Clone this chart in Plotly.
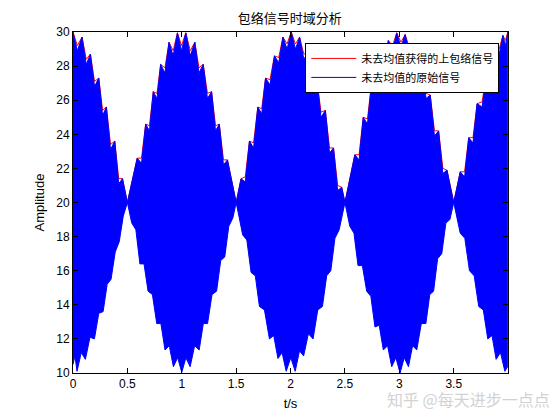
import plotly.graph_objects as go

# upper edge of the raw signal: scallop peaks and the notches between them
peak_t = [0.000, 0.083, 0.160, 0.237, 0.307, 0.384, 0.455, 0.500,
          0.590, 0.668, 0.738, 0.806, 0.883, 0.960, 1.037, 1.120, 1.197, 1.274, 1.345, 1.420, 1.500,
          1.545, 1.622, 1.699, 1.770, 1.852, 1.930, 2.006, 2.083, 2.160, 2.240, 2.320, 2.395, 2.470, 2.500,
          2.591, 2.668, 2.745, 2.822, 2.899, 2.976, 3.053, 3.130, 3.207, 3.284, 3.361, 3.438, 3.500,
          3.560, 3.638, 3.715, 3.807, 3.884, 3.952, 3.998]
peak_v = [30.0, 29.7, 28.7, 27.3, 25.6, 23.6, 21.4, 20.0,
          22.6, 24.6, 26.5, 28.1, 29.4, 29.95, 29.95, 29.4, 28.1, 26.5, 24.6, 22.5, 20.0,
          21.4, 23.6, 25.6, 27.3, 28.6, 29.7, 30.0, 29.7, 28.8, 27.3, 25.4, 23.2, 20.9, 20.0,
          22.8, 25.0, 27.0, 28.5, 29.5, 29.95, 29.85, 29.2, 28.0, 26.3, 24.2, 21.9, 20.0,
          21.8, 23.8, 25.8, 27.8, 28.9, 29.8, 30.0]

notch_t = [0.040, 0.122, 0.198, 0.272, 0.345, 0.420,
           0.630, 0.703, 0.772, 0.845, 0.921, 0.998, 1.078, 1.158, 1.236, 1.310, 1.383,
           1.584, 1.660, 1.735, 1.811, 1.891, 1.968, 2.045, 2.122, 2.200, 2.280, 2.358, 2.433,
           2.630, 2.707, 2.784, 2.861, 2.938, 3.015, 3.092, 3.169, 3.246, 3.323, 3.400,
           3.600, 3.677, 3.761, 3.846, 3.918, 3.975]
notch_v = [28.9, 28.1, 26.8, 25.1, 23.1, 21.1,
           22.3, 24.2, 26.1, 27.6, 28.6, 28.9, 28.6, 27.6, 26.1, 24.2, 22.2,
           21.2, 23.2, 25.2, 26.9, 28.2, 29.0, 29.0, 28.4, 26.9, 25.0, 22.9, 20.7,
           22.5, 24.6, 26.6, 28.0, 28.9, 29.1, 28.8, 27.8, 26.1, 23.9, 21.7,
           21.5, 23.5, 25.6, 27.5, 28.7, 29.2]
# upper envelope (red) in the notches
env_notch_v = [29.2, 28.4, 27.1, 25.4, 23.4, 21.4,
               22.6, 24.5, 26.4, 27.9, 28.9, 29.2, 28.9, 27.9, 26.4, 24.5, 22.5,
               21.5, 23.5, 25.5, 27.2, 28.5, 29.3, 29.3, 28.7, 27.2, 25.3, 23.2, 21.0,
               22.8, 24.9, 26.9, 28.3, 29.2, 29.4, 29.1, 28.1, 26.4, 24.2, 22.0,
               21.8, 23.8, 25.9, 27.8, 29.0, 29.5]

# lower edge of the raw signal: troughs and the bumps between them
trough_t = [0.000, 0.037, 0.114, 0.197, 0.277, 0.350, 0.425, 0.500,
            0.540, 0.615, 0.690, 0.770, 0.846, 0.923, 1.000, 1.077, 1.160, 1.237, 1.320, 1.395, 1.470, 1.500,
            1.560, 1.637, 1.714, 1.806, 1.884, 1.960, 2.043, 2.120, 2.207, 2.293, 2.370, 2.447, 2.500,
            2.545, 2.620, 2.700, 2.776, 2.853, 2.930, 3.007, 3.084, 3.160, 3.244, 3.315, 3.390, 3.465, 3.500,
            3.560, 3.645, 3.730, 3.813, 3.890, 3.970, 3.998]
trough_v = [10.5, 10.1, 10.8, 12.0, 13.6, 15.5, 17.7, 20.0,
            18.8, 16.4, 14.8, 12.9, 11.35, 10.37, 10.04, 10.37, 11.35, 12.9, 14.8, 16.8, 19.1, 20.0,
            18.1, 15.9, 13.9, 12.0, 10.85, 10.1, 10.1, 11.0, 12.0, 13.9, 16.0, 18.4, 20.0,
            18.6, 16.3, 14.8, 12.7, 11.35, 10.37, 10.0, 10.37, 11.35, 12.9, 14.8, 17.0, 19.0, 20.0,
            18.2, 16.0, 13.9, 12.0, 10.8, 10.1, 10.4]

bump_t = [0.018, 0.076, 0.156, 0.237, 0.314, 0.388, 0.462,
          0.578, 0.653, 0.730, 0.808, 0.885, 0.962, 1.038, 1.118, 1.198, 1.278, 1.358, 1.432,
          1.598, 1.676, 1.760, 1.845, 1.922, 2.002, 2.082, 2.164, 2.250, 2.332, 2.408,
          2.583, 2.660, 2.738, 2.815, 2.892, 2.968, 3.045, 3.122, 3.202, 3.280, 3.352, 3.428,
          3.602, 3.688, 3.772, 3.852, 3.930]
bump_v = [11.0, 11.2, 12.1, 13.5, 15.2, 17.1, 19.2,
          18.4, 16.4, 14.6, 12.9, 11.6, 10.9, 10.9, 11.6, 12.9, 14.6, 16.6, 18.6,
          17.8, 15.7, 13.7, 12.2, 11.2, 10.9, 11.3, 12.3, 13.7, 15.7, 17.9,
          18.2, 16.3, 14.5, 12.8, 11.6, 10.9, 10.9, 11.6, 12.9, 14.6, 16.7, 18.8,
          17.9, 15.7, 13.7, 12.2, 11.2]

x_ticks = [0, 0.5, 1, 1.5, 2, 2.5, 3, 3.5]
y_ticks = [10, 12, 14, 16, 18, 20, 22, 24, 26, 28, 30]


def merge(ta, va, tb, vb):
    pts = sorted(zip(ta + tb, va + vb))
    return [p[0] for p in pts], [p[1] for p in pts]


up_t, up_v = merge(peak_t, peak_v, notch_t, notch_v)
env_t, env_v = merge(peak_t, peak_v, notch_t, env_notch_v)
lo_t, lo_v = merge(trough_t, trough_v, bump_t, bump_v)

cjk = "Noto Sans CJK SC"

fig = go.Figure()

fig.add_trace(go.Scatter(
    x=env_t, y=env_v, mode="lines",
    line=dict(color="#ff0000", width=1),
    name="未去均值获得的上包络信号"
))
fig.add_trace(go.Scatter(
    x=up_t, y=up_v, mode="lines",
    line=dict(color="#0000ff", width=1),
    name="未去均值的原始信号"
))
fig.add_trace(go.Scatter(
    x=lo_t, y=lo_v, mode="lines",
    line=dict(color="#0000ff", width=1),
    fill="tonexty", fillcolor="#0000ff",
    showlegend=False
))

# the page body adds an 8px offset, so margins are pulled in by that much
fig.update_layout(
    width=560,
    height=420,
    paper_bgcolor="white",
    plot_bgcolor="white",
    font=dict(family="Liberation Sans, Arial", size=12, color="#000000"),
    margin=dict(l=65, r=60, t=24, b=55),
    title=dict(
        text="包络信号时域分析",
        font=dict(family=cjk, size=13, color="#000000"),
        x=0.503, xanchor="center",
        y=0.976, yanchor="middle"
    ),
    legend=dict(
        x=0.98, y=0.968,
        xanchor="right", yanchor="top",
        traceorder="normal",
        bgcolor="white",
        bordercolor="#000000",
        borderwidth=1,
        font=dict(family=cjk, size=11, color="#000000"),
        tracegroupgap=0,
        itemwidth=45
    ),
    annotations=[dict(
        text="知乎 @每天进步一点点",
        xref="paper", yref="paper",
        x=1.1, y=-0.076,
        xanchor="right", yanchor="middle",
        showarrow=False,
        font=dict(family=cjk, size=16, color="#d2d2d2")
    )]
)

fig.update_xaxes(
    range=[0, 3.999],
    tickvals=x_ticks,
    ticktext=["0", "0.5", "1", "1.5", "2", "2.5", "3", "3.5"],
    ticks="inside", ticklen=5, tickcolor="#000000",
    showline=True, linecolor="#000000", linewidth=1, mirror="ticks",
    showgrid=False, zeroline=False,
    title=dict(text="t/s", standoff=8, font=dict(size=13))
)

fig.update_yaxes(
    range=[10, 30],
    tickvals=y_ticks,
    ticks="inside", ticklen=5, tickcolor="#000000",
    showline=True, linecolor="#000000", linewidth=1, mirror="ticks",
    showgrid=False, zeroline=False,
    title=dict(text="Amplitude", standoff=8, font=dict(size=13))
)

fig.write_html("out.html")
